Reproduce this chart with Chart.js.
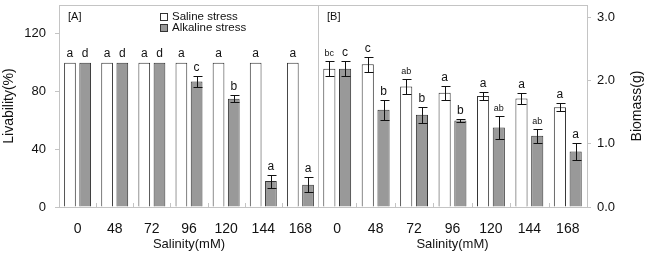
<!DOCTYPE html>
<html>
<head>
<meta charset="utf-8">
<script src="https://cdn.jsdelivr.net/npm/chart.js@4"></script>
<style>
  html, body { margin: 0; padding: 0; background: #fff; }
  #wrap { position: relative; width: 647px; height: 256px; }
  #chartA { position: absolute; left: 0; top: 0; }
  #chartB { position: absolute; left: 318px; top: 0; }
</style>
</head>
<body>
<div id="wrap">
  <canvas id="chartA" width="319" height="256"></canvas>
  <canvas id="chartB" width="329" height="256"></canvas>
</div>
<script>
const SALINITY = ['0', '48', '72', '96', '120', '144', '168'];

// [A] livability (%)
const LIV_SALINE = [100, 100, 100, 100, 100, 100, 100];
const LIV_SALINE_ERR = [0, 0, 0, 0, 0, 0, 0];
const LIV_SALINE_LETTERS = ['a', 'a', 'a', 'a', 'a', 'a', 'a'];
const LIV_ALKALINE = [100, 100, 100, 87, 75, 18, 15.5];
const LIV_ALKALINE_ERR = [0, 0, 0, 4, 2.5, 4.5, 5.3];
const LIV_ALKALINE_LETTERS = ['d', 'd', 'd', 'c', 'b', 'a', 'a'];
const LIV_TICKS = [0, 40, 80, 120];

// [B] biomass (g)
const BIO_SALINE = [2.19, 2.26, 1.91, 1.81, 1.76, 1.72, 1.58];
const BIO_SALINE_ERR = [0.12, 0.12, 0.12, 0.11, 0.065, 0.09, 0.06];
const BIO_SALINE_LETTERS = ['bc', 'c', 'ab', 'a', 'a', 'a', 'a'];
const BIO_ALKALINE = [2.19, 1.54, 1.46, 1.37, 1.26, 1.13, 0.88];
const BIO_ALKALINE_ERR = [0.12, 0.16, 0.13, 0.03, 0.18, 0.11, 0.14];
const BIO_ALKALINE_LETTERS = ['c', 'b', 'b', 'b', 'ab', 'ab', 'a'];
const BIO_TICKS = [0, 1, 2, 3];

const FONT = 'Liberation Sans, Arial, sans-serif';
const FRAME = '#c4c4c4';
const WHITE = '#ffffff';
const GRAY = '#999999';
const EDGE = '#333333';

Chart.defaults.font.family = FONT;
Chart.defaults.color = '#111';

// error bars, significance letters, frame and panel label
function panelPlugin(panel) {
  return {
    id: 'panel' + panel.tag,
    afterDatasetsDraw(chart) {
      const ctx = chart.ctx;
      const area = chart.chartArea;
      const y = chart.scales.y;
      const x = chart.scales.x;
      ctx.save();

      // frame
      ctx.strokeStyle = FRAME;
      ctx.lineWidth = 1;
      ctx.strokeRect(Math.round(area.left) + 0.5, Math.round(area.top) + 0.5,
        Math.round(area.right - area.left), Math.round(area.bottom - area.top));

      // small ticks between categories
      for (let i = 1; i < SALINITY.length; i++) {
        const bx = Math.round((x.getPixelForValue(i - 1) + x.getPixelForValue(i)) / 2) + 0.5;
        ctx.beginPath();
        ctx.moveTo(bx, area.bottom);
        ctx.lineTo(bx, area.bottom - 4);
        ctx.stroke();
      }

      chart.data.datasets.forEach((ds, di) => {
        const meta = chart.getDatasetMeta(di);
        meta.data.forEach((bar, i) => {
          const v = ds.data[i];
          const e = ds.errors[i];
          const cx = Math.round(bar.x) + 0.5;
          let top = y.getPixelForValue(v);
          if (e > 0) {
            const hi = Math.round(y.getPixelForValue(v + e)) + 0.5;
            const lo = Math.round(y.getPixelForValue(v - e)) + 0.5;
            ctx.strokeStyle = '#111';
            ctx.beginPath();
            ctx.moveTo(cx, hi); ctx.lineTo(cx, lo);
            ctx.moveTo(cx - 4, hi); ctx.lineTo(cx + 5, hi);
            ctx.moveTo(cx - 4, lo); ctx.lineTo(cx + 5, lo);
            ctx.stroke();
            top = hi;
          }
          const txt = ds.letters[i];
          const size = txt.length > 1 ? panel.smallFont : panel.letterFont;
          ctx.font = size + 'px ' + FONT;
          ctx.fillStyle = '#111';
          ctx.textAlign = 'center';
          ctx.textBaseline = 'alphabetic';
          ctx.fillText(txt, bar.x, top - 6);
        });
      });

      // panel tag
      ctx.font = '11px ' + FONT;
      ctx.textAlign = 'left';
      ctx.textBaseline = 'middle';
      ctx.fillStyle = '#111';
      ctx.fillText(panel.tag, area.left + 9, area.top + 12);

      // legend
      if (panel.legend) {
        ctx.font = '11.5px ' + FONT;
        chart.data.datasets.forEach((ds, di) => {
          const ly = area.top + 12 + di * 11;
          const lx = 160;
          ctx.fillStyle = ds.backgroundColor;
          ctx.fillRect(lx + 0.5, ly - 3.5, 7, 7);
          ctx.strokeStyle = EDGE;
          ctx.strokeRect(lx + 0.5, ly - 3.5, 7, 7);
          ctx.fillStyle = '#111';
          ctx.fillText(ds.label, lx + 12, ly);
        });
      }

      // right-hand axis title, read bottom to top
      if (panel.rightTitle) {
        ctx.translate(chart.width - 10, (area.top + area.bottom) / 2);
        ctx.rotate(-Math.PI / 2);
        ctx.font = '14px ' + FONT;
        ctx.textAlign = 'center';
        ctx.textBaseline = 'middle';
        ctx.fillText(panel.rightTitle, 0, 0);
      }
      ctx.restore();
    }
  };
}

function barSet(label, data, errors, letters, fill) {
  return {
    label: label,
    data: data,
    errors: errors,
    letters: letters,
    backgroundColor: fill,
    borderColor: EDGE,
    borderWidth: 1,
    categoryPercentage: 0.82,
    barPercentage: 0.77,
  };
}

function xAxis() {
  return {
    grid: { display: false },
    border: { color: '#b8b8b8' },
    ticks: { font: { size: 14 }, color: '#111', padding: 6, maxRotation: 0 },
    title: { display: true, text: 'Salinity(mM)', font: { size: 13 }, color: '#111', padding: { top: 0, bottom: 4 } },
    afterFit: (axis) => { axis.height = 49; axis.paddingLeft = 0; axis.paddingRight = 0; },
  };
}

function yFit(width) {
  return (axis) => {
    axis.width = width;
    axis.paddingTop = 0;
    axis.paddingBottom = 0;
  };
}

new Chart(document.getElementById('chartA'), {
  type: 'bar',
  data: {
    labels: SALINITY,
    datasets: [
      barSet('Saline stress', LIV_SALINE, LIV_SALINE_ERR, LIV_SALINE_LETTERS, WHITE),
      barSet('Alkaline stress', LIV_ALKALINE, LIV_ALKALINE_ERR, LIV_ALKALINE_LETTERS, GRAY),
    ],
  },
  options: {
    responsive: false,
    animation: false,
    layout: { padding: { top: 5, right: 0, bottom: 0, left: 0 } },
    plugins: { legend: { display: false }, tooltip: { enabled: false } },
    scales: {
      x: xAxis(),
      y: {
        min: 0,
        max: 140,
        afterBuildTicks: (axis) => { axis.ticks = LIV_TICKS.map((v) => ({ value: v })); },
        grid: { drawOnChartArea: false, tickLength: 4, color: FRAME },
        border: { color: FRAME },
        ticks: { font: { size: 13 }, color: '#111', padding: 9 },
        title: { display: true, text: 'Livability(%)', font: { size: 14 }, color: '#111', padding: { top: 1, bottom: 0 } },
        afterFit: yFit(59),
      },
    },
  },
  plugins: [panelPlugin({ tag: '[A]', legend: true, letterFont: 12, smallFont: 12 })],
});

new Chart(document.getElementById('chartB'), {
  type: 'bar',
  data: {
    labels: SALINITY,
    datasets: [
      barSet('Saline stress', BIO_SALINE, BIO_SALINE_ERR, BIO_SALINE_LETTERS, WHITE),
      barSet('Alkaline stress', BIO_ALKALINE, BIO_ALKALINE_ERR, BIO_ALKALINE_LETTERS, GRAY),
    ],
  },
  options: {
    responsive: false,
    animation: false,
    layout: { padding: { top: 5, right: 0, bottom: 0, left: 0 } },
    plugins: { legend: { display: false }, tooltip: { enabled: false } },
    scales: {
      x: xAxis(),
      y: {
        position: 'right',
        min: 0,
        max: 3.2,
        afterBuildTicks: (axis) => { axis.ticks = BIO_TICKS.map((v) => ({ value: v })); },
        grid: { drawOnChartArea: false, tickLength: 4, color: FRAME },
        border: { color: FRAME },
        ticks: { font: { size: 13 }, color: '#111', padding: 6, callback: (v) => Number(v).toFixed(1) },
        title: { display: false },
        afterFit: yFit(60),
      },
    },
  },
  plugins: [panelPlugin({ tag: '[B]', legend: false, letterFont: 12, smallFont: 9, rightTitle: 'Biomass(g)' })],
});
</script>
</body>
</html>
